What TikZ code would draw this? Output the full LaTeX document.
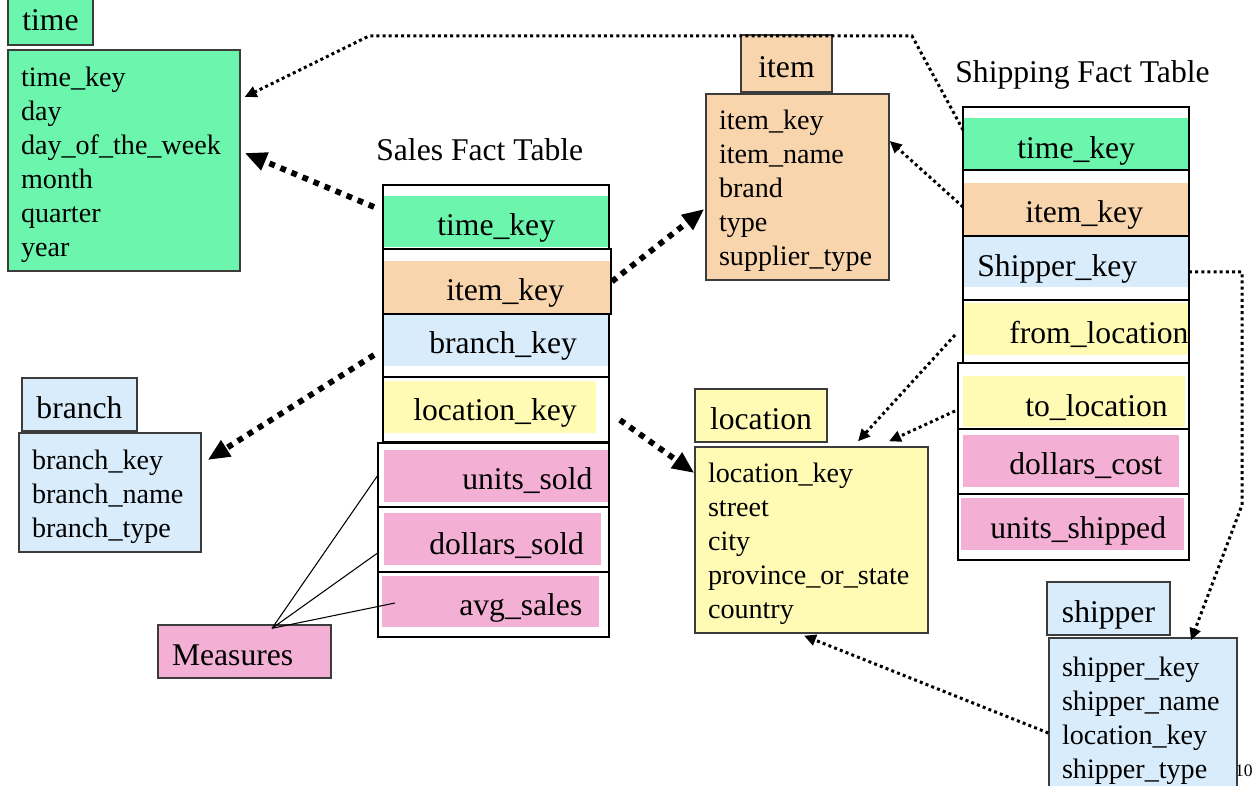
\documentclass[tikz,border=0pt]{standalone}
\usepackage{fontspec}
\setmainfont{Liberation Serif}
\usetikzlibrary{arrows.meta}
\definecolor{dimgreen}{HTML}{6CF6AD}
\definecolor{dimpeach}{HTML}{F8D5AC}
\definecolor{dimblue}{HTML}{D8ECFB}
\definecolor{dimyellow}{HTML}{FFFBB5}
\definecolor{measpink}{HTML}{F3B0D4}
\definecolor{boxline}{HTML}{3C3C3C}
\newcommand{\rowstrut}{\rule{0pt}{15.5pt}}
\tikzset{
  dimtitle/.style={draw=boxline,line width=0.8pt,inner sep=0pt,text height=16pt,text depth=0pt,font=\fontsize{18}{21.6}\selectfont},
  dimbody/.style={draw=boxline,line width=0.8pt,inner xsep=0.26cm,inner ysep=0pt,align=left,font=\fontsize{16}{19.35}\selectfont},
  factcell/.style={draw=black,line width=0.85pt,inner sep=0pt,outer sep=0pt},
  factkey/.style={anchor=base west,inner sep=0pt,font=\fontsize{18}{21.6}\selectfont},
  salesref/.style={line width=3.3pt,dash pattern=on 3.3pt off 3.5pt,-{Triangle[length=0.44cm,width=0.36cm]}},
  shipref/.style={line width=1.7pt,dash pattern=on 1.7pt off 1.8pt,-{Triangle[length=0.24cm,width=0.22cm]}},
}
\begin{document}
\begin{tikzpicture}[x=0.02cm,y=-0.02cm]
    \path[use as bounding box,fill=white] (0,0) rectangle (1252,786);
    \node[anchor=base east,inner sep=0pt,font=\fontsize{10}{12}\selectfont] (pageno) at (1253,777) {10};
    \node[dimtitle,text height=11pt,fill=dimgreen,minimum width=1.7cm,minimum height=0.96cm] (timetitle) at (50.5,21) {time};
    \node[dimbody,fill=dimgreen,text width=4.12cm,minimum height=4.42cm] (timedim) at (124,160.5) {\rowstrut time\_key\\day\\day\_of\_the\_week\\month\\quarter\\year};
    \node[dimtitle,fill=dimpeach,minimum width=1.82cm,minimum height=1.14cm] (itemtitle) at (786.5,63.5) {item};
    \node[dimbody,fill=dimpeach,text width=3.14cm,minimum height=3.72cm] (itemdim) at (797.5,187) {\rowstrut item\_key\\item\_name\\brand\\type\\supplier\_type};
    \node[dimtitle,fill=dimblue,minimum width=2.3cm,minimum height=1.06cm] (branchtitle) at (79.5,404.5) {branch};
    \node[dimbody,fill=dimblue,text width=3.12cm,minimum height=2.38cm] (branchdim) at (110,492.5) {\rowstrut branch\_key\\branch\_name\\branch\_type};
    \node[dimtitle,fill=dimyellow,minimum width=2.64cm,minimum height=1.06cm] (loctitle) at (761,415.5) {location};
    \node[dimbody,fill=dimyellow,text width=4.14cm,minimum height=3.72cm] (locdim) at (811.5,540) {\rowstrut location\_key\\street\\city\\province\_or\_state\\country};
    \node[dimtitle,fill=dimblue,minimum width=2.46cm,minimum height=1.06cm] (shiptitle) at (1108.5,608.5) {shipper};
    \node[dimbody,fill=dimblue,text width=3.24cm,minimum height=3.16cm] (shipdim) at (1143,717) {\rowstrut shipper\_key\\shipper\_name\\location\_key\\shipper\_type};
    \node[dimtitle,fill=measpink,inner xsep=0.28cm,text width=2.9cm,align=left,minimum height=1.06cm] (meas) at (244.5,651.5) {Measures};
    \node[factkey] (salestitle) at (376,161) {Sales Fact Table};
    \node[factkey] (shiptabtitle) at (955,83) {Shipping Fact Table};
    \fill[dimgreen] (383,196) rectangle (609,247);
    \fill[dimpeach] (383,261) rectangle (611,313);
    \fill[dimblue] (383,315) rectangle (609,366);
    \fill[dimyellow] (383,381) rectangle (596,433);
    \fill[measpink] (384,450) rectangle (609,502);
    \fill[measpink] (384,513) rectangle (601,565);
    \fill[measpink] (382,576) rectangle (599,627);
    \fill[dimgreen] (963,118) rectangle (1188,170);
    \fill[dimpeach] (963,183) rectangle (1189,235);
    \fill[dimblue] (963,236) rectangle (1189,287);
    \fill[dimyellow] (963,303) rectangle (1188,355);
    \fill[dimyellow] (963,376) rectangle (1185,427);
    \fill[measpink] (963,435) rectangle (1179,487);
    \fill[measpink] (961,498) rectangle (1184,550);
    \node[factcell,minimum width=4.52cm,minimum height=1.28cm] (s1) at (496,217) {};
    \node[factcell,minimum width=4.56cm,minimum height=1.30cm] (s2) at (497,281.5) {};
    \node[factcell,minimum width=4.52cm,minimum height=1.26cm] (s3) at (496,345.5) {};
    \node[factcell,minimum width=4.52cm,minimum height=1.30cm] (s4) at (496,409.5) {};
    \node[factcell,minimum width=4.62cm,minimum height=1.28cm] (s5) at (493.5,475) {};
    \node[factcell,minimum width=4.62cm,minimum height=1.30cm] (s6) at (493.5,539.5) {};
    \node[factcell,minimum width=4.62cm,minimum height=1.30cm] (s7) at (493.5,604.5) {};
    \node[factcell,minimum width=4.52cm,minimum height=1.26cm] (c1) at (1076,138.5) {};
    \node[factcell,minimum width=4.52cm,minimum height=1.32cm] (c2) at (1076,203) {};
    \node[factcell,minimum width=4.52cm,minimum height=1.28cm] (c3) at (1076,268) {};
    \node[factcell,minimum width=4.52cm,minimum height=1.26cm] (c4) at (1076,331.5) {};
    \node[factcell,minimum width=4.62cm,minimum height=1.32cm] (c5) at (1073.5,396) {};
    \node[factcell,minimum width=4.62cm,minimum height=1.30cm] (c6) at (1073.5,461.5) {};
    \node[factcell,minimum width=4.62cm,minimum height=1.32cm] (c7) at (1073.5,527) {};
    \node[factkey] (stime) at (437,236) {time\_key};
    \node[factkey] (sitem) at (446,301) {item\_key};
    \node[factkey] (sbranch) at (429,354) {branch\_key};
    \node[factkey] (sloc) at (413,421) {location\_key};
    \node[factkey] (sunits) at (462,490) {units\_sold};
    \node[factkey] (sdollars) at (429,555) {dollars\_sold};
    \node[factkey] (savg) at (459,616) {avg\_sales};
    \node[factkey] (htime) at (1017,159) {time\_key};
    \node[factkey] (hitem) at (1025,223) {item\_key};
    \node[factkey] (hshipper) at (977,277) {Shipper\_key};
    \node[factkey] (hfrom) at (1009,344) {from\_location};
    \node[factkey] (hto) at (1025,417) {to\_location};
    \node[factkey] (hdollars) at (1009,475) {dollars\_cost};
    \node[factkey] (hunits) at (990,539) {units\_shipped};
    \coordinate (mtip) at ([shift={(27.5,4)}]meas.north);
    \draw[line width=0.6pt] (mtip) -- (s5.west);
    \draw[line width=0.6pt] (mtip) -- ([shift={(1,12.5)}]s6.west);
    \draw[line width=0.6pt] (mtip) -- ([shift={(17,-1.5)}]s7.west);
    \draw[salesref] ([shift={(-9,-10)}]s1.west) -- ([shift={(4,-7.5)}]timedim.east);
    \draw[salesref] ([shift={(1,0)}]s2.east) -- ([shift={(-1,22)}]itemdim.west);
    \draw[salesref] ([shift={(-9,9.5)}]s3.west) -- ([shift={(6,-32.5)}]branchdim.east);
    \draw[salesref] ([shift={(11,10.5)}]s4.east) -- ([shift={(0,-67)}]locdim.west);
    \draw[shipref] ([shift={(0,-8.5)}]c1.west) -- (912,36) -- (369,36) -- ([shift={(4,-63.5)}]timedim.east);
    \draw[shipref] ([shift={(0,4)}]c2.west) -- ([shift={(0,-46)}]itemdim.east);
    \draw[shipref] ([shift={(-8,3.5)}]c4.west) -- ([shift={(46.5,-5)}]locdim.north);
    \draw[shipref] ([shift={(-3,15)}]c5.west) -- ([shift={(77.5,-5)}]locdim.north);
    \draw[shipref] ([shift={(0,4)}]c3.east) -- (1242,272) -- (1242,505) -- ([shift={(48,3)}]shipdim.north);
    \draw[shipref] ([shift={(0,16)}]shipdim.west) -- ([shift={(-7.5,2)}]locdim.south);
\end{tikzpicture}
\end{document}
